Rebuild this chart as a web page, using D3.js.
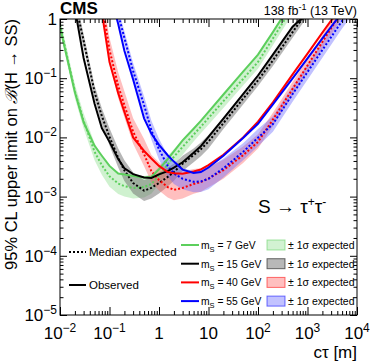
<!DOCTYPE html>
<html>
<head>
<meta charset="utf-8">
<script src="https://d3js.org/d3.v7.min.js"></script>
<style>
body { margin: 0; background: #fff; }
text { font-family: "Liberation Sans", Arial, Helvetica, sans-serif; fill: #000; }
</style>
</head>
<body>
<svg id="chart" width="374" height="363"></svg>
<script>
// c*tau grid [m] and limits, one set per scalar mass
var ct7  = [0.01,0.02,0.03,0.05,0.07,0.1,0.15,0.2,0.3,0.5,0.7,1,1.5,2,3,5,7,10,20,50,100,200,500];
var obs7 = [0.73,0.058,0.018,0.0072,0.0049,0.0033,0.00245,0.00236,0.00223,0.0021,0.00215,0.0029,0.0043,0.0058,0.0089,0.014,0.019,0.027,0.053,0.129,0.25,0.6,2.0];
var exp7 = [0.8,0.06,0.019,0.0057,0.0034,0.0022,0.00166,0.0015,0.0014,0.00145,0.00163,0.00227,0.0035,0.0047,0.0069,0.0111,0.0152,0.0213,0.041,0.097,0.188,0.47,1.6];
var lo7  = [0.62,0.046,0.0141,0.0041,0.00234,0.00147,0.00111,0.0010,0.00093,0.00097,0.00112,0.00162,0.0025,0.0035,0.0051,0.0085,0.0117,0.0164,0.0315,0.075,0.145,0.36,1.23];
var hi7  = [1.04,0.078,0.0257,0.0080,0.0049,0.0033,0.0025,0.00225,0.0021,0.0022,0.00236,0.0032,0.0049,0.0063,0.0093,0.0144,0.0198,0.0277,0.053,0.126,0.244,0.61,2.1];

var ct15  = [0.02,0.03,0.05,0.07,0.1,0.15,0.2,0.3,0.5,0.7,1,1.5,2,3,5,7,10,20,50,100,200,500,1000,2000];
var obs15 = [1.5,0.22,0.037,0.0144,0.0084,0.0043,0.0030,0.0024,0.0021,0.00206,0.00237,0.0027,0.0031,0.0038,0.0055,0.0071,0.0102,0.0208,0.054,0.111,0.25,0.74,1.26,4];
var exp15 = [2.0,0.43,0.058,0.023,0.0102,0.0045,0.00276,0.0017,0.00126,0.0014,0.0017,0.00215,0.0026,0.0036,0.0050,0.0063,0.0085,0.0174,0.045,0.092,0.20,0.6,1.37,3];
var lo15  = [1.54,0.33,0.045,0.017,0.0073,0.0031,0.00184,0.00113,0.00084,0.00093,0.00113,0.00148,0.00186,0.0027,0.0038,0.0048,0.0065,0.0139,0.036,0.074,0.16,0.48,1.1,2.4];
var hi15  = [2.6,0.56,0.075,0.031,0.0143,0.0065,0.0041,0.00255,0.0019,0.0021,0.00255,0.0031,0.0036,0.0049,0.0065,0.0082,0.011,0.0218,0.056,0.115,0.25,0.75,1.7,3.75];

var ct40  = [0.07,0.1,0.15,0.2,0.3,0.5,0.7,1,1.5,2,3,5,7,10,20,50,100,200,500,1000,2000,5000];
var obs40 = [1.3,0.188,0.056,0.027,0.0100,0.0059,0.0044,0.0033,0.0026,0.00248,0.00243,0.00265,0.00287,0.0034,0.0051,0.0100,0.0185,0.039,0.116,0.26,0.59,1.7];
var exp40 = [2,0.3,0.074,0.035,0.0125,0.0052,0.0027,0.0019,0.00145,0.0013,0.0014,0.00163,0.00176,0.00202,0.0028,0.0050,0.0084,0.020,0.066,0.164,0.41,1.36];
var lo40  = [1.33,0.19,0.046,0.022,0.0078,0.00325,0.00174,0.00127,0.00097,0.00087,0.00093,0.00112,0.00121,0.00144,0.002,0.0037,0.0065,0.0154,0.051,0.126,0.315,1.05];
var hi40  = [3.0,0.48,0.126,0.060,0.021,0.0094,0.0051,0.0038,0.0029,0.0026,0.00266,0.00293,0.0030,0.0032,0.0042,0.0070,0.0113,0.026,0.086,0.213,0.53,1.77];

var ct55  = [0.1,0.15,0.2,0.3,0.5,0.7,1,1.5,2,3,5,7,10,20,50,100,200,500,1000,2000,5000,10000];
var obs55 = [3,0.82,0.29,0.095,0.021,0.0116,0.0075,0.0050,0.0039,0.00286,0.0025,0.0026,0.0031,0.0049,0.0098,0.017,0.036,0.099,0.216,0.47,1.3,3];
var exp55 = [5,1.2,0.48,0.133,0.035,0.0133,0.0063,0.0033,0.00246,0.0020,0.00178,0.0018,0.0020,0.0030,0.0057,0.0099,0.0168,0.054,0.127,0.30,0.93,2];
var lo55  = [3.85,0.92,0.37,0.099,0.025,0.0092,0.0042,0.0022,0.00164,0.00133,0.00119,0.0012,0.00133,0.0021,0.0041,0.0071,0.0124,0.040,0.094,0.222,0.69,1.48];
var hi55  = [6.5,1.56,0.62,0.18,0.049,0.0193,0.0095,0.0050,0.0037,0.0030,0.0027,0.0027,0.0030,0.0044,0.0080,0.0139,0.0227,0.073,0.171,0.405,1.26,2.7];

var massLabels = ['7', '15', '40', '55'];
var xTickExp = [-2, -1, 0, 1, 2, 3, 4];
var yTickExp = [0, -1, -2, -3, -4, -5];

var width = 374, height = 363;
var padL = 60, padR = 357, padT = 19, padB = 315;

var svg = d3.select('#chart');
svg.append('rect').attr('width', width).attr('height', height).attr('fill', '#fff');

var x = d3.scaleLog().domain([1e-2, 1e4]).range([padL, padR]);
var y = d3.scaleLog().domain([1e-5, 1]).range([padB, padT]);

svg.append('clipPath').attr('id', 'clip')
	.append('rect').attr('x', padL).attr('y', padT).attr('width', padR - padL).attr('height', padB - padT);

var series = [
	{m: massLabels[0], ct: ct7, obs: obs7, exp: exp7, lo: lo7, hi: hi7, line: '#5ccf5c', band: 'rgba(105,210,105,0.32)', box: '#d2f2d2'},
	{m: massLabels[1], ct: ct15, obs: obs15, exp: exp15, lo: lo15, hi: hi15, line: '#000000', band: 'rgba(110,110,110,0.5)', box: '#b8b8b8'},
	{m: massLabels[2], ct: ct40, obs: obs40, exp: exp40, lo: lo40, hi: hi40, line: '#ff0000', band: 'rgba(255,95,95,0.4)', box: '#ffbfbf'},
	{m: massLabels[3], ct: ct55, obs: obs55, exp: exp55, lo: lo55, hi: hi55, line: '#0000ff', band: 'rgba(100,100,255,0.4)', box: '#c2c2ff'}
];

series.forEach(function (s) {
	s.rows = s.ct.map(function (c, i) {
		return {ct: c, obs: s.obs[i], exp: s.exp[i], lo: s.lo[i], hi: s.hi[i]};
	});
});

var plot = svg.append('g').attr('clip-path', 'url(#clip)');

var band = d3.area()
	.x(function (d) { return x(d.ct); })
	.y0(function (d) { return y(d.lo); })
	.y1(function (d) { return y(d.hi); });
var obsLine = d3.line()
	.x(function (d) { return x(d.ct); })
	.y(function (d) { return y(d.obs); });
var expLine = d3.line()
	.x(function (d) { return x(d.ct); })
	.y(function (d) { return y(d.exp); });

plot.selectAll('path.band').data(series)
	.enter().append('path')
		.attr('class', 'band')
		.attr('d', function (s) { return band(s.rows); })
		.style('fill', function (s) { return s.band; });

plot.selectAll('path.exp').data(series)
	.enter().append('path')
		.attr('class', 'exp')
		.attr('d', function (s) { return expLine(s.rows); })
		.attr('fill', 'none')
		.attr('stroke', function (s) { return s.line; })
		.attr('stroke-width', 2)
		.attr('stroke-dasharray', '2,2');

plot.selectAll('path.obs').data(series)
	.enter().append('path')
		.attr('class', 'obs')
		.attr('d', function (s) { return obsLine(s.rows); })
		.attr('fill', 'none')
		.attr('stroke', function (s) { return s.line; })
		.attr('stroke-width', 2);

// ticks on all four sides, pointing inwards
var xMajor = xTickExp.map(function (e) { return Math.pow(10, e); });
var yMajor = yTickExp.map(function (e) { return Math.pow(10, e); });
function minors(major) {
	var out = [];
	major.slice().sort(d3.ascending).slice(0, -1).forEach(function (d) {
		for (var k = 2; k < 10; k++) out.push(d * k);
	});
	return out;
}
var xMinor = minors(xMajor), yMinor = minors(yMajor);

function ticks(axis, vals, size, tr) {
	svg.append('g').attr('transform', tr)
		.call(axis.tickValues(vals).tickSize(-size).tickSizeOuter(0).tickFormat(''))
		.call(function (g) {
			g.select('.domain').remove();
			g.selectAll('line').attr('stroke', '#000');
		});
}
ticks(d3.axisBottom(x), xMajor, 8, 'translate(0,' + padB + ')');
ticks(d3.axisBottom(x), xMinor, 4, 'translate(0,' + padB + ')');
ticks(d3.axisTop(x), xMajor, 8, 'translate(0,' + padT + ')');
ticks(d3.axisTop(x), xMinor, 4, 'translate(0,' + padT + ')');
ticks(d3.axisLeft(y), yMajor, 7, 'translate(' + padL + ',0)');
ticks(d3.axisLeft(y), yMinor, 3.5, 'translate(' + padL + ',0)');
ticks(d3.axisRight(y), yMajor, 7, 'translate(' + padR + ',0)');
ticks(d3.axisRight(y), yMinor, 3.5, 'translate(' + padR + ',0)');

svg.append('rect')
	.attr('x', padL).attr('y', padT).attr('width', padR - padL).attr('height', padB - padT)
	.attr('fill', 'none').attr('stroke', '#000').attr('stroke-width', 1);

function powLabel(sel, e) {
	if (e === 0) { sel.text('1'); return; }
	if (e === 1) { sel.text('10'); return; }
	sel.append('tspan').text('10');
	sel.append('tspan').attr('dy', -7).style('font-size', '12px')
		.text(e < 0 ? '\u2212' + (-e) : String(e));
}

xTickExp.forEach(function (e) {
	var t = svg.append('text')
		.attr('x', x(Math.pow(10, e)))
		.attr('y', 339)
		.attr('text-anchor', 'middle')
		.style('font-size', '17px');
	powLabel(t, e);
});
yTickExp.forEach(function (e) {
	var t = svg.append('text')
		.attr('x', 57)
		.attr('y', y(Math.pow(10, e)) + 6)
		.attr('text-anchor', 'end')
		.style('font-size', '17px');
	powLabel(t, e);
});

// axis titles
var xt = svg.append('text').attr('x', padR).attr('y', 358)
	.attr('text-anchor', 'end').style('font-size', '17px');
xt.append('tspan').text('c\u03c4 [m]');

var yt = svg.append('text')
	.attr('transform', 'translate(17,' + padT + ') rotate(-90)')
	.attr('text-anchor', 'end').style('font-size', '16.5px');
yt.append('tspan').text('95% CL upper limit on ');
yt.append('tspan').style('font-family', '"DejaVu Serif", serif').style('font-style', 'italic').text('\u212c');
yt.append('tspan').text('(H \u2192 SS)');

svg.append('text').attr('x', padL).attr('y', 14)
	.style('font-size', '17px').style('font-weight', 'bold').text('CMS');

var lumi = svg.append('text').attr('x', padR).attr('y', 15)
	.attr('text-anchor', 'end').style('font-size', '12.5px');
lumi.append('tspan').text('138 fb');
lumi.append('tspan').attr('dy', -5).style('font-size', '9px').text('-1');
lumi.append('tspan').attr('dy', 5).text(' (13 TeV)');

var proc = svg.append('text').attr('x', 258).attr('y', 213).style('font-size', '19px');
proc.append('tspan').text('S \u2192 \u03c4');
proc.append('tspan').attr('dy', -7).style('font-size', '12px').text('+');
proc.append('tspan').attr('dy', 7).text('\u03c4');
proc.append('tspan').attr('dy', -7).style('font-size', '12px').text('-');

// legend: line styles
svg.append('line').attr('x1', 69).attr('x2', 86).attr('y1', 252).attr('y2', 252)
	.attr('stroke', '#000').attr('stroke-width', 2).attr('stroke-dasharray', '2,2');
svg.append('text').attr('x', 89).attr('y', 256).style('font-size', '11.5px').text('Median expected');
svg.append('line').attr('x1', 69).attr('x2', 86).attr('y1', 285).attr('y2', 285)
	.attr('stroke', '#000').attr('stroke-width', 2);
svg.append('text').attr('x', 89).attr('y', 289).style('font-size', '11.5px').text('Observed');

// legend: masses
var leg = svg.selectAll('g.leg').data(series).enter().append('g')
	.attr('class', 'leg')
	.attr('transform', function (s, i) { return 'translate(0,' + (245 + i * 18.7) + ')'; });
leg.append('line').attr('x1', 181).attr('x2', 199).attr('y1', 0).attr('y2', 0)
	.attr('stroke', function (s) { return s.line; }).attr('stroke-width', 2);
var lt = leg.append('text').attr('x', 201).attr('y', 4).style('font-size', '10.3px');
lt.append('tspan').text('m');
lt.append('tspan').attr('dy', 3).style('font-size', '7.5px').text('S');
lt.append('tspan').attr('dy', -3).text(function (s) { return ' = ' + s.m + ' GeV'; });
leg.append('rect').attr('x', 267).attr('y', -5).attr('width', 18).attr('height', 10)
	.attr('fill', function (s) { return s.box; })
	.attr('stroke', function (s) { return s.line; }).attr('stroke-opacity', 0.55);
leg.append('text').attr('x', 288).attr('y', 4).style('font-size', '10.5px').text('\u00b1 1\u03c3 expected');
</script>
</body>
</html>
